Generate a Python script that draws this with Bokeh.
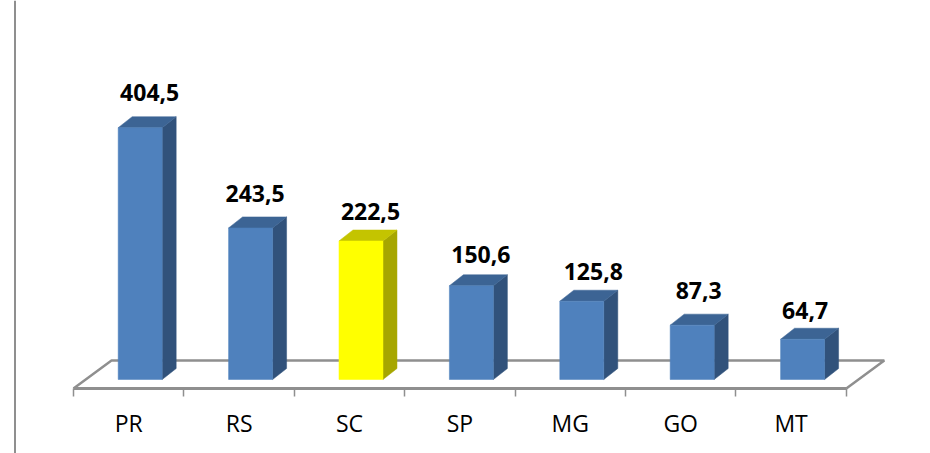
from bokeh.plotting import figure
from bokeh.models import Range1d, LinearAxis, FixedTicker, Span, ColumnDataSource
from bokeh.core.properties import value
from bokeh.embed import file_html
from bokeh.resources import INLINE

categories = ["PR", "RS", "SC", "SP", "MG", "GO", "MT"]
values = [404.5, 243.5, 222.5, 150.6, 125.8, 87.3, 64.7]
value_labels = ["404,5", "243,5", "222,5", "150,6", "125,8", "87,3", "64,7"]
front_colors = ["#4f81bd", "#4f81bd", "#ffff00", "#4f81bd", "#4f81bd", "#4f81bd", "#4f81bd"]
side_colors = ["#31527b", "#31527b", "#a6a600", "#31527b", "#31527b", "#31527b", "#31527b"]
top_colors = ["#3c6494", "#3c6494", "#c4c400", "#3c6494", "#3c6494", "#3c6494", "#3c6494"]
label_dx = [9.5, 4.5, 9.5, 9.5, 11.5, 6.5, 2.5]
label_dy = [35.5, 34.4, 29.5, 31, 29.2, 34.7, 28.7]

W, H = 930, 453
CAT_W = 110.4
X0 = 73.0
PX_PER_UNIT = 0.6225
BASE = 379.0
GREY = "#8f8f8f"

def dy(px):
    return px / PX_PER_UNIT

def dx(px):
    return px / CAT_W

p = figure(width=W, height=H, output_backend="svg", toolbar_location=None,
           x_range=Range1d(-X0 / CAT_W, (W - X0) / CAT_W),
           y_range=Range1d(-(H - BASE) / PX_PER_UNIT, BASE / PX_PER_UNIT),
           min_border=0, outline_line_color=None, margin=(0, 0, 0, 0))
p.xgrid.visible = False
p.ygrid.visible = False
p.xaxis.visible = False
p.yaxis.visible = False

# left border
p.add_layout(Span(location=dx(14.5) - X0 / CAT_W, dimension="height",
                  line_color=GREY, line_width=2))

# floor (3D depth of the category plane)
n = len(categories)
floor_y = dy(-9)
p.line([0, dx(38), n + dx(38), n], [floor_y, floor_y + dy(28), floor_y + dy(28), floor_y],
       line_color=GREY, line_width=2.5)

# category axis
ax = LinearAxis(fixed_location=floor_y, bounds=(0, n))
ax.ticker = FixedTicker(ticks=[i + 0.5 for i in range(n)], minor_ticks=list(range(n + 1)))
ax.major_label_overrides = {i + 0.5: c for i, c in enumerate(categories)}
ax.axis_line_color = GREY
ax.axis_line_width = 3
ax.major_tick_line_color = None
ax.major_tick_in = 0
ax.major_tick_out = 0
ax.minor_tick_line_color = GREY
ax.minor_tick_line_width = 1.5
ax.minor_tick_in = 0
ax.minor_tick_out = 8
ax.major_label_standoff = 10
ax.major_label_text_font = "Open Sans"
ax.major_label_text_font_size = "23px"
ax.major_label_text_color = "#000000"
p.add_layout(ax, "below")

# bars
xc = [i + 0.604 for i in range(n)]
hw = dx(22)
ddx, ddy = dx(14), dy(11)
side_x = [[x + hw, x + hw + ddx, x + hw + ddx, x + hw] for x in xc]
side_y = [[0, ddy, v + ddy, v] for v in values]
top_x = [[x - hw, x - hw + ddx, x + hw + ddx, x + hw] for x in xc]
top_y = [[v, v + ddy, v + ddy, v] for v in values]
p.patches(side_x, side_y, fill_color=side_colors, line_color=side_colors, line_width=0.5)
p.patches(top_x, top_y, fill_color=top_colors, line_color=top_colors, line_width=0.5)
p.vbar(x=xc, width=2 * hw, top=values, bottom=0, fill_color=front_colors,
       line_color=front_colors, line_width=0.5)

# value labels
src = ColumnDataSource(dict(x=xc, y=values, t=value_labels, xo=label_dx, yo=[-d for d in label_dy]))
p.text(x="x", y="y", text="t", x_offset="xo", y_offset="yo", source=src,
       text_font=value("Open Sans"), text_font_style="bold", text_font_size="23px",
       text_color="#000000", text_align="center", text_baseline="middle")

open("out.html", "w").write(file_html(p, INLINE))
